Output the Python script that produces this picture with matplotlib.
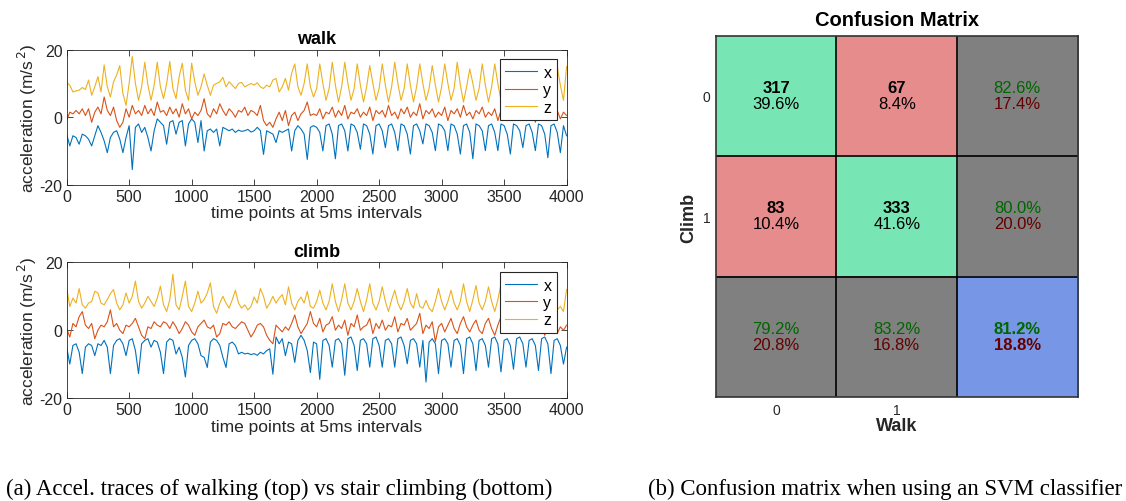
import numpy as np
import matplotlib
matplotlib.use("Agg")
import matplotlib.pyplot as plt
from matplotlib.colors import ListedColormap

plt.rcParams['font.family'] = ['Liberation Sans', 'DejaVu Sans']
plt.rcParams['axes.unicode_minus'] = False

# --- accelerometer traces, one value every 25 samples (0 .. 4000) ---
step = 25

walk_x = [-5.0, -8.5, -5.5, -6.0, -8.0, -5.0, -5.5, -6.5, -8.5, -5.5, -2.5, -4.5, -7.0, -10.5, -6.0, -4.5, -4.0, -6.5, -10.5, -6.0,
          -2.5, -15.5, -3.0, -2.0, -4.5, -3.0, -6.0, -10.0, -4.0, -0.5, -1.5, -2.5, -8.0, -1.5, -1.0, -5.0, -1.5, -1.0, -8.5, -2.0,
          -0.5, -1.5, -7.5, -1.0, -10.0, -4.0, -3.5, -4.5, -3.5, -8.5, -3.0, -3.5, -4.0, -3.5, -4.5, -3.8, -4.2, -4.0, -3.6, -4.4,
          -4.0, -3.0, -4.0, -11.0, -4.0, -4.5, -5.0, -7.5, -4.0, -4.5, -4.0, -3.5, -10.0, -4.0, -2.5, -3.5, -5.0, -12.5, -3.0, -2.5,
          -3.0, -4.5, -10.0, -2.5, -2.0, -5.0, -12.3, -2.5, -2.0, -4.0, -10.0, -2.0, -2.5, -4.5, -9.5, -2.0, -2.5, -5.0, -10.9, -2.5,
          -2.0, -4.0, -9.0, -2.5, -2.0, -4.5, -9.9, -2.0, -2.5, -5.0, -10.9, -2.5, -2.0, -4.0, -7.9, -2.0, -2.5, -4.5, -9.9, -2.0,
          -2.5, -4.0, -9.9, -2.0, -2.5, -5.0, -10.9, -2.5, -2.0, -4.5, -12.3, -2.0, -2.5, -4.0, -9.9, -2.5, -2.0, -4.5, -9.9, -2.0,
          -2.5, -5.0, -10.9, -2.0, -2.5, -4.0, -9.0, -2.5, -2.0, -4.5, -9.9, -2.0, -2.5, -5.0, -12.0, -2.5, -2.0, -4.5, -10.5, -2.5,
          -5.5]

walk_y = [-1.0, 1.5, 1.0, 2.0, 1.0, 2.5, 0.5, 2.5, -1.5, 1.5, 3.0, 1.0, 6.0, 2.0, 0.5, 3.0, -1.0, -3.0, -1.5, 2.5,
          0.0, 3.5, 1.0, 2.0, 0.5, 3.5, 1.0, 2.5, 0.5, 4.5, 1.5, 2.0, 0.5, 3.0, 1.0, 2.5, 0.0, 4.0, 1.0, 2.5,
          -0.5, 1.5, 0.5, 2.0, 5.5, 1.0, 0.0, 2.5, 1.0, 4.0, 2.0, 0.5, 2.5, 1.5, 0.0, 2.0, 1.5, 3.0, 0.5, 2.0,
          1.5, 0.5, 3.5, -1.0, -2.5, -1.5, -3.0, -0.5, 1.5, -1.0, 2.0, -2.5, 0.5, 1.5, -1.0, 1.0, 2.0, 4.5, 0.5, 1.0,
          0.5, 2.5, -0.5, 1.5, 1.0, 3.0, 0.0, 2.0, 0.5, 3.5, -0.5, 1.5, 1.0, 2.5, 0.0, 1.5, 0.5, 3.0, -1.0, 2.0,
          1.0, 2.0, 0.0, 3.5, 0.5, 1.5, -0.5, 2.5, 1.0, 3.0, 0.0, 1.5, 0.5, 4.0, -0.5, 2.0, 1.0, 2.5, 0.0, 1.5,
          0.5, 3.0, -1.0, 2.0, 1.0, 2.5, 0.0, 3.5, 0.5, 1.5, -0.5, 2.0, 1.0, 3.0, 0.0, 1.5, 0.5, 2.5, -1.0, 2.0,
          1.0, 3.5, 0.0, 1.5, 0.5, 2.0, -0.5, 2.5, 1.0, 1.5, -1.5, 2.0, 0.5, 2.5, 0.0, 1.5, 1.0, 2.0, -0.5, 1.5,
          0.5]

walk_z = [10.3, 9.5, 7.5, 7.8, 8.0, 8.8, 8.2, 11.0, 6.5, 9.0, 12.0, 7.5, 15.5, 9.0, 6.0, 10.5, 12.5, 15.3, 7.0, 3.5,
          10.0, 18.0, 10.0, 5.0, 9.0, 16.3, 9.5, 5.0, 9.5, 16.3, 9.0, 5.5, 10.0, 16.5, 8.5, 5.5, 12.0, 16.0, 8.0, 5.0,
          16.0, 10.5, 6.5, 9.0, 12.8, 9.5, 6.5, 9.5, 10.0, 10.5, 11.8, 9.0, 10.5, 9.5, 8.5, 10.0, 10.3, 9.0, 9.5, 10.0,
          9.5, 10.2, 9.0, 8.5, 9.5, 9.0, 11.0, 11.5, 7.5, 9.0, 11.5, 8.0, 13.0, 15.8, 9.0, 6.5, 10.0, 15.8, 9.0, 6.0,
          8.5, 15.8, 10.0, 5.0, 8.5, 16.3, 9.5, 4.5, 9.0, 16.3, 10.0, 5.0, 8.5, 15.8, 9.5, 4.5, 9.0, 15.3, 10.0, 5.0,
          8.5, 15.8, 9.5, 4.5, 9.0, 16.3, 10.0, 5.0, 8.5, 15.8, 9.5, 4.5, 9.0, 15.8, 10.0, 5.0, 8.5, 15.3, 9.5, 4.5,
          9.0, 15.8, 10.0, 5.0, 8.5, 16.3, 9.5, 4.5, 9.0, 14.3, 10.0, 5.0, 8.5, 15.8, 9.5, 4.5, 9.0, 15.8, 10.0, 5.0,
          8.5, 15.5, 9.5, 4.5, 9.0, 16.0, 10.0, 5.0, 8.5, 15.5, 9.5, 4.5, 9.0, 15.8, 10.0, 5.0, 8.5, 15.0, 9.5, 5.0,
          15.0]

climb_x = [-5.0, -10.0, -4.5, -4.0, -6.5, -12.8, -5.0, -4.0, -4.5, -7.5, -4.0, -4.5, -3.0, -5.0, -12.8, -4.5, -3.0, -2.5, -4.0, -7.5,
           -3.0, -2.5, -6.0, -12.8, -4.0, -3.0, -2.5, -5.0, -3.0, -3.5, -6.5, -12.8, -3.5, -2.5, -3.0, -7.0, -5.0, -8.0, -13.8, -4.5,
           -3.0, -2.5, -4.0, -7.5, -8.0, -11.0, -3.5, -2.5, -3.0, -4.5, -8.0, -11.0, -4.0, -3.5, -4.5, -7.0, -6.5, -7.0, -6.8, -7.2,
           -6.9, -7.4, -6.5, -7.0, -6.0, -5.5, -13.0, -2.0, -4.0, -2.5, -7.5, -3.5, -4.0, -9.5, -3.0, -1.5, -3.0, -6.0, -12.5, -3.5,
           -4.0, -14.5, -3.0, -2.5, -4.5, -10.9, -3.0, -2.5, -4.0, -13.3, -2.5, -2.0, -4.5, -11.9, -3.0, -2.5, -4.0, -10.9, -2.5, -2.0,
           -4.5, -10.9, -3.0, -2.5, -4.0, -10.9, -2.5, -2.0, -4.5, -9.9, -3.0, -2.5, -4.0, -10.9, -3.0, -15.3, -3.5, -2.5, -4.0, -12.8,
           -3.0, -2.5, -4.0, -10.9, -3.0, -2.5, -4.5, -12.8, -2.5, -2.0, -4.0, -11.9, -3.0, -2.5, -4.5, -10.9, -2.5, -2.0, -4.0, -12.3,
           -3.0, -2.5, -4.5, -11.5, -2.5, -2.0, -4.0, -10.9, -3.0, -2.5, -4.5, -11.9, -2.5, -2.0, -4.0, -12.8, -3.0, -2.5, -4.5, -10.0,
           -5.0]

climb_y = [0.5, -2.0, 2.0, 1.0, 4.0, 5.5, 1.5, 0.5, 2.0, -2.5, 0.0, 1.5, 1.0, 2.5, 6.0, 1.0, 2.0, 0.0, -1.0, 1.5,
           1.0, 2.0, 3.5, 1.0, -1.5, -2.5, 1.0, 0.5, 2.5, 1.5, 1.0, 2.5, 2.0, 0.5, 2.5, 1.0, -1.0, 0.5, 2.5, 1.5,
           -0.5, -1.5, 1.0, 2.0, 3.0, 1.0, 0.5, 1.5, -2.0, -1.0, 2.0, 1.5, 2.5, 1.0, 0.5, 1.5, 2.5, 2.0, 0.0, -2.0,
           -0.5, 1.5, 2.0, 1.0, -1.5, -3.0, -4.0, 1.5, 0.5, -0.5, 1.0, 0.0, 2.0, 4.5, 1.0, -1.0, 0.5, 2.0, 5.5, 2.0,
           1.0, 3.5, -0.5, 1.5, 2.0, 4.0, 0.0, 1.5, 0.5, 3.0, -1.5, 2.0, 1.0, 4.5, 0.0, 1.0, 1.5, 3.5, -1.0, 2.0,
           0.5, 3.0, 0.0, 1.5, 1.0, 4.0, -0.5, 2.0, 1.5, 3.5, 0.0, 1.0, 2.0, 5.0, -1.0, 1.5, 0.5, 2.5, -3.4, 1.0,
           2.0, -0.5, 1.5, 3.5, 0.5, -1.0, 2.0, 4.0, 1.0, -0.5, 1.5, 3.0, 0.0, -1.0, 2.0, 3.5, 0.5, -1.5, 1.5, 4.0,
           1.0, -0.5, 2.0, 3.0, 0.5, -1.0, 1.5, 3.5, 0.0, -0.5, 2.0, 3.0, 1.0, -1.5, 1.5, 2.5, 0.5, -1.0, 1.0, 0.0,
           1.5]

climb_z = [12.5, 7.0, 9.5, 8.0, 12.3, 7.5, 6.5, 8.0, 8.5, 11.5, 11.0, 8.0, 7.5, 9.0, 10.8, 12.0, 8.0, 6.0, 7.5, 11.0,
           8.0, 10.0, 14.5, 8.5, 6.5, 8.0, 10.0, 8.5, 7.0, 9.5, 13.0, 7.5, 5.5, 9.0, 16.5, 7.5, 6.0, 10.0, 14.5, 7.0,
           5.5, 8.0, 11.5, 8.0, 9.0, 11.0, 14.0, 7.0, 5.0, 8.0, 10.0, 8.0, 6.5, 9.0, 11.8, 8.0, 6.5, 7.5, 6.0, 7.0,
           9.8, 8.0, 12.3, 10.0, 6.5, 8.0, 10.0, 8.0, 9.5, 10.5, 7.5, 12.8, 8.0, 6.0, 8.5, 9.8, 8.0, 11.5, 7.0, 6.5,
           8.5, 11.8, 8.0, 6.0, 8.5, 13.7, 8.5, 5.5, 9.0, 13.7, 8.0, 6.0, 8.5, 12.3, 8.5, 5.5, 9.0, 13.7, 8.0, 6.0,
           8.5, 12.8, 8.5, 5.5, 9.0, 11.8, 8.0, 6.0, 8.5, 12.3, 8.0, 6.5, 10.8, 7.0, 6.5, 8.8, 6.5, 5.5, 8.5, 12.3,
           8.5, 6.0, 8.5, 11.8, 8.0, 6.0, 8.5, 13.7, 8.5, 5.5, 9.0, 13.2, 8.0, 6.0, 8.5, 12.8, 8.5, 5.5, 9.0, 13.7,
           8.0, 6.0, 8.5, 12.8, 8.5, 5.5, 9.0, 12.3, 8.0, 6.0, 8.5, 13.2, 8.5, 5.5, 9.0, 12.8, 8.0, 6.0, 7.0, 5.5,
           12.0]

axis_labels = ['x', 'y', 'z']
trace_colors = ['#0072BD', '#D95319', '#EDB120']

# --- confusion matrix (SVM) ---
counts = [[317, 67], [83, 333]]
cell_pct = [[39.6, 8.4], [10.4, 41.6]]
row_ok = [82.6, 80.0]
row_err = [17.4, 20.0]
col_ok = [79.2, 83.2]
col_err = [20.8, 16.8]
total_ok = 81.2
total_err = 18.8
class_labels = ['0', '1']

fig = plt.figure(figsize=(11.26, 5.02), dpi=100)

ink = '#262626'


def trace_panel(ax, series, title):
    t = np.arange(len(series[0])) * step
    for s, lab, c in zip(series, axis_labels, trace_colors):
        ax.plot(t, s, color=c, lw=0.8, label=lab)
    ax.set_xlim(0, 4000)
    ax.set_ylim(-20, 20)
    ax.set_xticks(np.arange(0, 4001, 500))
    ax.set_yticks([-20, 0, 20])
    ax.tick_params(direction='in', top=True, right=True, length=4, width=0.6,
                   colors=ink, labelsize=11.5, pad=3)
    for sp in ax.spines.values():
        sp.set_color(ink)
        sp.set_linewidth(0.6)
    ax.set_title(title, fontsize=13, fontweight='bold', color='black', pad=5)
    ax.set_xlabel('time points at 5ms intervals', fontsize=12.5, color=ink, labelpad=1)
    ax.set_ylabel('acceleration (m/s$^{\\,2}$)', fontsize=12.5, color=ink, labelpad=0)
    leg = ax.legend(loc='upper right', fontsize=11.5, fancybox=False, framealpha=1,
                    edgecolor=ink, borderaxespad=0.6, handlelength=2.0,
                    handletextpad=0.4, labelspacing=0.15, borderpad=0.35)
    leg.get_frame().set_linewidth(0.8)


ax1 = fig.add_axes([0.0592, 0.630, 0.444, 0.269])
trace_panel(ax1, [walk_x, walk_y, walk_z], 'walk')
ax2 = fig.add_axes([0.0592, 0.2052, 0.444, 0.270])
trace_panel(ax2, [climb_x, climb_y, climb_z], 'climb')

# confusion matrix panel
ax3 = fig.add_axes([0.6356, 0.2066, 0.3215, 0.7203])
kind = np.array([[0, 1, 2], [1, 0, 2], [2, 2, 3]])
cmap = ListedColormap(['#78E6B4', '#E68C8C', '#808080', '#7896E6'])
ax3.imshow(kind, cmap=cmap, vmin=-0.5, vmax=3.5, aspect='auto')
ax3.set_xticks(range(2))
ax3.set_xticklabels(class_labels)
ax3.set_yticks(range(2))
ax3.set_yticklabels(class_labels)
ax3.tick_params(length=0, labelsize=10, colors=ink, pad=4)
ax3.set_xticks([0.5, 1.5], minor=True)
ax3.set_yticks([0.5, 1.5], minor=True)
ax3.tick_params(which='minor', length=0)
ax3.grid(which='minor', color='black', lw=1.2)
for sp in ax3.spines.values():
    sp.set_color('#333333')
    sp.set_linewidth(1.2)

dg = '#006600'
dr = '#660000'
up, dn = -0.072, 0.062
for i in range(2):
    for j in range(2):
        ax3.text(j, i + up, str(counts[i][j]), ha='center', va='center',
                 fontsize=12, fontweight='bold', color='black')
        ax3.text(j, i + dn, '%.1f%%' % cell_pct[i][j], ha='center', va='center',
                 fontsize=12, color='black')
    ax3.text(2, i + up, '%.1f%%' % row_ok[i], ha='center', va='center', fontsize=12, color=dg)
    ax3.text(2, i + dn, '%.1f%%' % row_err[i], ha='center', va='center', fontsize=12, color=dr)
    ax3.text(i, 2 + up, '%.1f%%' % col_ok[i], ha='center', va='center', fontsize=12, color=dg)
    ax3.text(i, 2 + dn, '%.1f%%' % col_err[i], ha='center', va='center', fontsize=12, color=dr)
ax3.text(2, 2 + up, '%.1f%%' % total_ok, ha='center', va='center', fontsize=12,
         fontweight='bold', color=dg)
ax3.text(2, 2 + dn, '%.1f%%' % total_err, ha='center', va='center', fontsize=12,
         fontweight='bold', color=dr)

ax3.set_title('Confusion Matrix', fontsize=14.5, fontweight='bold', pad=8)
ax3.set_xlabel('Walk', fontsize=13, fontweight='bold', color=ink, labelpad=0)
ax3.set_ylabel('Climb', fontsize=13, fontweight='bold', color=ink, labelpad=4)

# sub-figure captions
fig.text(0.005, 0.026, '(a) Accel. traces of walking (top) vs stair climbing (bottom)',
         fontsize=16.5, family=['Liberation Serif', 'DejaVu Serif'], va='center', ha='left')
fig.text(0.5755, 0.026, '(b) Confusion matrix when using an SVM classifier',
         fontsize=16.5, family=['Liberation Serif', 'DejaVu Serif'], va='center', ha='left')

fig.savefig('out.png', dpi=100)
